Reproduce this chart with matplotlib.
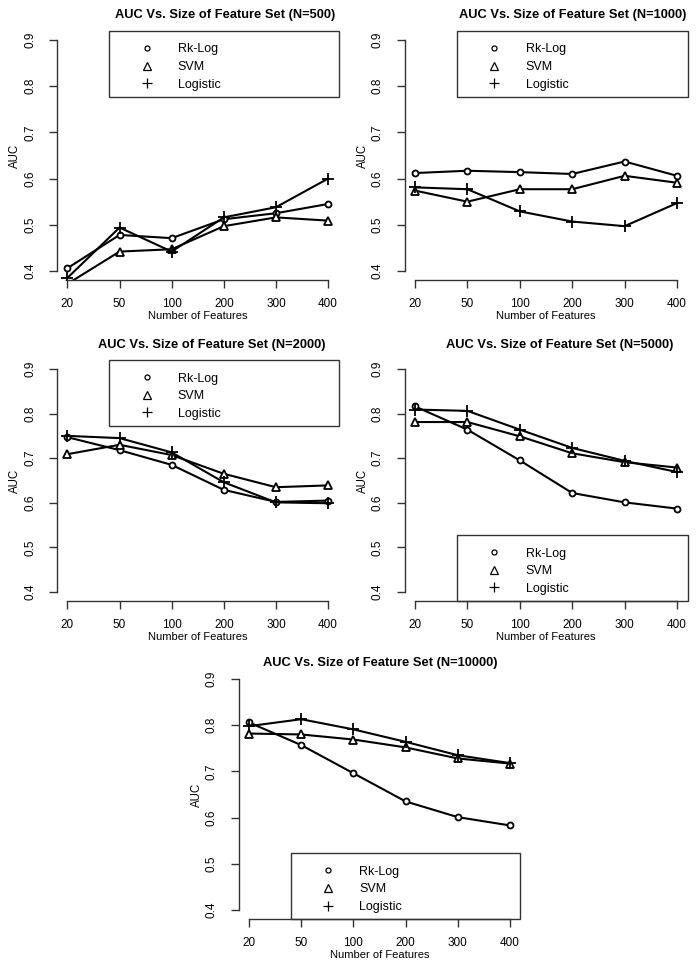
import matplotlib
matplotlib.use('Agg')
import matplotlib.pyplot as plt
from matplotlib.lines import Line2D
from matplotlib.patches import Rectangle

plt.rcParams['font.family'] = ['Liberation Sans', 'DejaVu Sans']

x_labels = ['20', '50', '100', '200', '300', '400']
x_pos = [1, 2, 3, 4, 5, 6]
series_names = ['Rk-Log', 'SVM', 'Logistic']

rk_500 = [0.406, 0.478, 0.471, 0.512, 0.525, 0.545]
svm_500 = [0.372, 0.442, 0.447, 0.497, 0.516, 0.509]
log_500 = [0.385, 0.494, 0.442, 0.516, 0.538, 0.600]

rk_1000 = [0.612, 0.617, 0.614, 0.610, 0.637, 0.606]
svm_1000 = [0.574, 0.550, 0.577, 0.577, 0.606, 0.591]
log_1000 = [0.581, 0.577, 0.529, 0.507, 0.497, 0.547]

rk_2000 = [0.747, 0.718, 0.685, 0.629, 0.602, 0.605]
svm_2000 = [0.709, 0.730, 0.707, 0.665, 0.635, 0.639]
log_2000 = [0.750, 0.745, 0.713, 0.646, 0.601, 0.599]

rk_5000 = [0.816, 0.764, 0.695, 0.622, 0.601, 0.587]
svm_5000 = [0.781, 0.781, 0.749, 0.711, 0.691, 0.679]
log_5000 = [0.809, 0.806, 0.764, 0.723, 0.694, 0.669]

rk_10000 = [0.806, 0.757, 0.696, 0.635, 0.601, 0.583]
svm_10000 = [0.782, 0.780, 0.769, 0.752, 0.728, 0.717]
log_10000 = [0.798, 0.813, 0.791, 0.764, 0.735, 0.718]

W, H = 697, 971
fig = plt.figure(figsize=(W / 100, H / 100), dpi=100)

# panel boxes in pixels: left, right, top, bottom, title x, title y, legend at top?
panels = [
    ('N=500', rk_500, svm_500, log_500, (57, 338.5, 30.8, 280.2), (225, 15), True),
    ('N=1000', rk_1000, svm_1000, log_1000, (404.5, 687.5, 30.8, 280.2), (573, 15), True),
    ('N=2000', rk_2000, svm_2000, log_2000, (57, 338.5, 360, 601), (212, 345), True),
    ('N=5000', rk_5000, svm_5000, log_5000, (404.5, 687.5, 360, 601), (560, 345), False),
    ('N=10000', rk_10000, svm_10000, log_10000, (238.6, 520.4, 669.8, 919.2), (380, 663), False),
]

markers = ['o', '^', '+']
msizes = [4.3, 6.0, 8.0]
leg_msizes = [3.6, 5.5, 7.5]

for name, rk, svm, lg, (l, r, t, b), (tx, ty), top in panels:
    aw, ah = r - l, b - t
    ax = fig.add_axes([l / W, 1 - b / H, aw / W, ah / H])
    for vals, m, ms in zip([rk, svm, lg], markers, msizes):
        ax.plot(x_pos, vals, color='black', lw=1.5, marker=m, ms=ms,
                mfc='white', mec='black', mew=1.3)
    ax.set_xlim(0.8, 6.2)
    ax.set_ylim(0.38, 0.92)
    ax.set_xticks(x_pos)
    ax.set_xticklabels(x_labels)
    ax.set_yticks([0.4, 0.5, 0.6, 0.7, 0.8, 0.9])
    ax.set_yticklabels(['0.4', '0.5', '0.6', '0.7', '0.8', '0.9'],
                       rotation=90, va='center')
    for s in ['top', 'right']:
        ax.spines[s].set_visible(False)
    ax.spines['left'].set_bounds(0.4, 0.9)
    ax.spines['bottom'].set_bounds(1, 6)
    for s in ['left', 'bottom']:
        ax.spines[s].set_color('#333333')
        ax.spines[s].set_linewidth(1.0)
    ax.tick_params(direction='out', length=6, width=1.0, color='#333333',
                   labelsize=8.5, pad=7)
    ax.tick_params(axis='y', pad=9)

    ax.set_xlabel('Number of Features', fontsize=8.0)
    ax.xaxis.label.set_va('center')
    ax.xaxis.set_label_coords(0.5, -(316 - 282) / ah - 0.008)
    ax.set_ylabel('AUC', fontsize=8.3)
    ax.yaxis.label.set_va('center')
    ax.yaxis.set_label_coords(-42 / aw, 0.5)

    ax.text((tx - l) / aw, (b - ty) / ah,
            'AUC Vs. Size of Feature Set (' + name + ')',
            transform=ax.transAxes, ha='center', va='center',
            fontsize=9.3, fontweight='bold')

    # legend box like R's legend()
    bw = 0.815
    bh = 66 / ah
    by = 1 - bh if top else 0
    ax.add_patch(Rectangle((1 - bw, by), bw, bh, transform=ax.transAxes,
                           fill=False, ec='#333333', lw=1.0, clip_on=False))
    handles = [Line2D([], [], ls='none', marker=m, ms=s, mfc='none',
                      mec='black', mew=0.9)
               for m, s in zip(markers, leg_msizes)]
    leg = ax.legend(handles, series_names, loc='upper left',
                    bbox_to_anchor=(1 - bw + 25 / aw, by + (66 - 12.5) / ah),
                    frameon=False, borderpad=0, borderaxespad=0,
                    handlelength=2.0, handletextpad=1.5, labelspacing=0.45,
                    fontsize=9.0)

fig.savefig('out.png', dpi=100)
